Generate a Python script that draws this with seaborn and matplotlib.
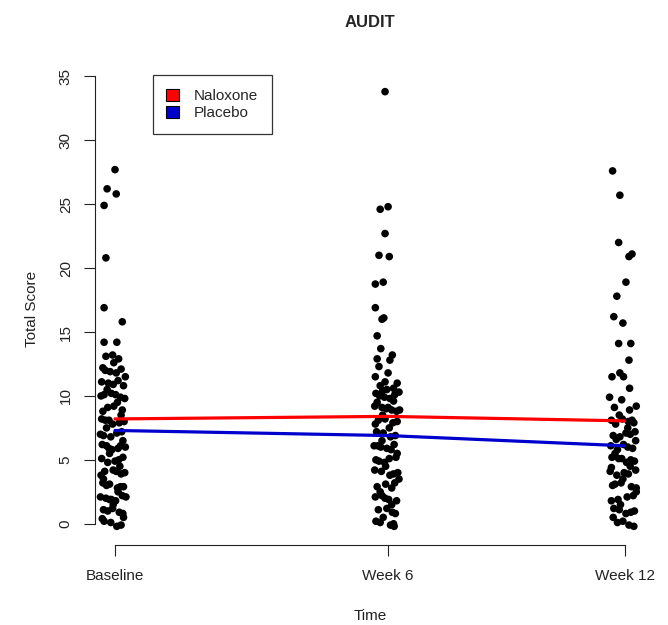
import matplotlib
matplotlib.use("Agg")
import matplotlib.pyplot as plt
from matplotlib.patches import Patch
import seaborn as sns
import pandas as pd

sns.set_style("ticks")
plt.rcParams['font.family'] = ['Liberation Sans', 'DejaVu Sans']

# visits (study day) and labels
visit_days = [0, 45, 84]
visit_labels = ['Baseline', 'Week 6', 'Week 12']

# jittered AUDIT totals, one list per visit
baseline_score = [27.7, 26.2, 25.8, 24.9, 20.8, 16.9, 15.8, 14.2, 14.2,
                  13.1, 12.9, 13.2,
                  12.2, 11.9, 12.1, 11.8, 12.0,
                  11.1, 10.9, 10.8, 11.2, 11.0,
                  10.1, 9.9, 10.2, 9.8, 10.0, 10.1,
                  9.1, 8.9, 9.2, 8.8,
                  8.1, 7.9, 8.2, 8.0, 7.8, 8.1,
                  7.1, 6.9, 7.2, 6.8, 7.0,
                  6.1, 5.9, 6.2, 6.0, 5.8, 6.1, 5.9,
                  5.1, 4.9, 5.2, 4.8, 5.0,
                  4.1, 3.9, 4.2, 3.8, 4.0, 4.1,
                  3.1, 2.9, 3.2, 2.8, 3.0, 2.9,
                  2.1, 1.9, 2.2, 1.8, 2.0, 2.1, 1.9,
                  1.1, 0.9, 1.2, 0.8, 1.0,
                  0.1, -0.1, 0.2, -0.2,
                  12.6, 11.5, 10.5, 9.5, 8.5, 7.5, 6.5, 5.5, 4.5, 3.5,
                  2.5, 1.5, 0.5, 0.4]
baseline_jit = [0.0, -1.3, 0.2, -1.8, -1.5, -1.8, 1.2, -1.8, 0.3,
                -1.5, 0.6, -0.4,
                -2.0, -0.8, 1.0, 0.2, -1.6,
                -2.2, -0.3, 1.4, 0.5, -1.1,
                -1.8, 0.9, -0.6, 1.6, -2.3, 0.1,
                -1.2, 1.2, -0.2, -2.0,
                -1.0, 0.7, -2.2, 1.5, -0.4, -1.6,
                0.3, -1.9, 1.1, -0.7, -2.4,
                -1.4, 0.5, -2.1, 1.7, -0.5, 0.9, -1.0,
                -2.2, 0.0, 1.3, -1.2, 0.6,
                -1.7, 1.0, -0.3, -2.3, 1.6, 0.2,
                -0.9, 1.4, -2.0, 0.4, -1.4, 0.9,
                -2.4, -0.6, 1.2, 0.1, -1.5, 1.8, -0.9,
                -1.9, 0.7, -0.4, 1.3, -1.2,
                -0.7, 1.0, -1.8, 0.3,
                -0.2, 1.7, -1.3, 0.4, 1.0, -1.4, 1.3, -0.9, 0.8, -1.9,
                0.5, -0.3, 1.4, -2.1]

week6_score = [33.8, 24.6, 24.8, 22.7, 21.0, 20.9, 18.75, 18.9, 16.9, 16.0,
               16.1, 14.7, 13.7, 13.2, 12.8, 12.9, 12.3, 11.8, 11.5, 11.1, 11.0,
               10.8, 10.6, 10.5,
               10.2, 9.9, 10.1, 9.8, 10.0, 10.3,
               9.1, 8.9, 9.2, 8.8, 9.0, 9.1, 8.9,
               8.1, 7.9, 8.2, 8.0, 7.8,
               7.1, 6.9, 7.2, 6.8,
               6.1, 5.9, 6.2, 6.0, 5.8, 6.1,
               5.1, 4.9, 5.2, 4.8, 5.0,
               4.1, 3.9, 4.2, 3.8, 4.0,
               3.1, 2.9, 3.2, 2.8,
               2.1, 1.9, 2.2, 1.8, 2.0,
               1.1, 0.9, 1.2, 0.8,
               0.1, -0.1, 0.2, -0.2, 0.0,
               9.5, 9.6, 8.5, 7.5, 6.5, 5.5, 4.5, 3.5, 2.5, 1.5,
               0.5, 10.4]
week6_jit = [-0.5, -1.3, 0.0, -0.5, -1.5, 0.2, -2.1, -0.8, -2.1, -1.0,
             -0.7, -1.8, -1.2, 0.7, 0.3, -1.8, -1.5, 0.0, -2.1, -0.5, 1.5,
             -1.3, 0.9, -0.2,
             -2.0, -0.6, 1.1, 0.3, -1.4, 1.8,
             -1.0, 0.6, -2.2, 1.4, -0.3, 0.0, 1.9,
             -1.6, 0.8, -0.5, 1.5, -2.1,
             -0.8, 1.2, -1.9, 0.4,
             -2.3, -0.2, 1.0, -1.2, 0.5, -1.7,
             0.2, -1.5, 1.3, -0.6, -2.0,
             -1.1, 0.9, -2.2, 0.3, 1.6,
             -0.4, -1.8, 1.1, 0.6,
             -2.1, 0.1, -1.0, 1.4, -0.5,
             -1.6, 0.7, -0.2, 1.2,
             -1.3, 0.4, -2.0, 1.0, 0.9,
             -1.8, 0.9, -0.9, 0.2, -1.0, 1.5, -0.4, 1.8, -1.3, 0.6,
             -0.8, -0.9]

week12_score = [27.6, 25.7, 22.0, 20.9, 21.1, 18.9, 17.8, 16.2, 15.7, 14.1,
                14.1, 12.8, 11.5, 11.8, 11.5, 10.6, 9.9, 9.7,
                9.1, 8.9, 9.2,
                8.1, 7.9, 8.2, 8.0, 7.8, 8.1,
                7.1, 6.9, 7.2, 6.8, 7.0,
                6.1, 5.9, 6.2, 6.0, 5.8,
                5.1, 4.9, 5.2, 4.8, 5.0, 5.1,
                4.1, 3.9, 4.2, 3.8, 4.0,
                3.1, 2.9, 3.2, 2.8, 3.0,
                2.1, 1.9, 2.2, 1.8,
                1.1, 0.9, 1.2, 0.8, 1.0,
                0.1, -0.1, 0.2, -0.2,
                8.5, 7.5, 6.5, 5.5, 4.5, 3.5, 2.5, 1.5, 0.5, 6.6,
                4.4]
week12_jit = [-2.0, -0.8, -1.0, 0.7, 1.2, 0.2, -1.3, -1.8, -0.3, -1.0,
              1.0, 0.7, -2.1, -0.8, -0.2, 0.8, -2.5, -0.5,
              -1.7, 0.8, 1.9,
              -2.2, 1.5, -0.4, 0.6, -1.5, 1.2,
              0.2, -1.9, 1.7, -0.8, 0.9,
              -2.3, 1.3, -0.2, 0.5, -1.2,
              -1.0, 1.6, -2.1, 0.3, 1.0, -0.5,
              -2.4, 0.6, 1.8, -1.3, -0.1,
              -1.6, 1.1, -0.6, 1.9, -2.0,
              0.4, -1.1, 1.4, -2.2,
              -0.9, 1.0, -1.8, 0.2, 1.6,
              -1.2, 0.7, -0.3, 1.5,
              -0.9, 0.5, 1.8, -1.6, 0.9, -0.3, 1.9, -0.7, -1.9, -1.4,
              -2.2]

# group means per visit
naloxone_mean = [8.2, 8.4, 8.05]
placebo_mean = [7.3, 6.9, 6.1]

rows = []
for day, scores, jit in [(visit_days[0], baseline_score, baseline_jit),
                         (visit_days[1], week6_score, week6_jit),
                         (visit_days[2], week12_score, week12_jit)]:
    for s, j in zip(scores, jit):
        rows.append({'time': day + j, 'score': s})
pts = pd.DataFrame(rows)

means = pd.DataFrame({
    'time': visit_days * 2,
    'score': naloxone_mean + placebo_mean,
    'group': ['Naloxone'] * 3 + ['Placebo'] * 3,
})
pal = {'Naloxone': '#FF0000', 'Placebo': '#0000CD'}

fig = plt.figure(figsize=(6.68, 6.25), dpi=100)
ax = fig.add_axes([0.1422, 0.128, 0.823, 0.754])

sns.scatterplot(data=pts, x='time', y='score', color='black', s=30,
                edgecolor='none', ax=ax, zorder=2)
sns.lineplot(data=means, x='time', y='score', hue='group', palette=pal,
             linewidth=2.3, legend=False, ax=ax, zorder=3)

ax.set_xlim(-3.3, 87.3)
ax.set_ylim(-1.66, 35.2)
ax.set_xticks(visit_days)
ax.set_xticklabels(visit_labels)
ax.set_yticks([0, 5, 10, 15, 20, 25, 30, 35])
ax.set_yticklabels(['0', '5', '10', '15', '20', '25', '30', '35'],
                   rotation=90, va='center')
ax.tick_params(axis='both', length=8, width=0.8, colors='#222222',
               labelsize=11, labelcolor='#222222')
ax.tick_params(axis='x', pad=9)
ax.tick_params(axis='y', pad=8)

sns.despine(ax=ax)
ax.spines['left'].set_bounds(0, 35)
ax.spines['bottom'].set_bounds(0, 84)
for sp in ['left', 'bottom']:
    ax.spines[sp].set_linewidth(0.8)
    ax.spines[sp].set_color('#222222')

ax.set_xlabel('Time', fontsize=11, labelpad=19, color='#222222')
ax.set_ylabel('Total Score', fontsize=11, labelpad=14, color='#222222')
ax.set_title('AUDIT', fontsize=12, fontweight='bold', pad=34)

handles = [Patch(facecolor=pal['Naloxone'], edgecolor='black', linewidth=0.8),
           Patch(facecolor=pal['Placebo'], edgecolor='black', linewidth=0.8)]
leg = ax.legend(handles, ['Naloxone', 'Placebo'], loc='upper left',
                bbox_to_anchor=(0.105, 0.997), fontsize=11, frameon=True,
                fancybox=False, handlelength=0.8, handleheight=0.8,
                handletextpad=1.0, borderpad=0.9, labelspacing=0.2,
                borderaxespad=0)
leg.get_frame().set_edgecolor('black')
leg.get_frame().set_linewidth(0.9)

fig.savefig('out.png', dpi=100)
